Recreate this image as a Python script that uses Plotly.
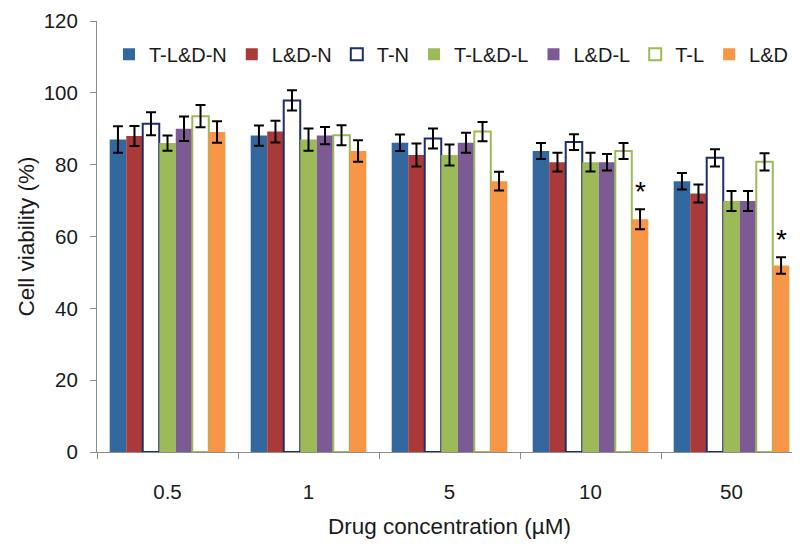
import plotly.graph_objects as go

categories = ["0.5", "1", "5", "10", "50"]
series_names = ["T-L&D-N", "L&D-N", "T-N", "T-L&D-L", "L&D-L", "T-L", "L&D"]

t_ld_n = [87.0, 88.1, 86.1, 83.8, 75.4]
ld_n = [88.0, 89.2, 82.7, 80.7, 72.0]
t_n = [91.4, 97.9, 87.3, 86.3, 81.9]
t_ld_l = [86.0, 87.0, 82.7, 80.7, 69.9]
ld_l = [90.0, 88.1, 86.1, 80.7, 69.9]
t_l = [93.5, 88.2, 89.2, 83.8, 80.8]
ld = [89.1, 83.8, 75.4, 64.8, 51.9]

t_ld_n_err = [3.7, 2.8, 2.3, 2.2, 2.3]
ld_n_err = [2.8, 3.0, 3.2, 2.6, 2.5]
t_n_err = [3.2, 2.8, 2.8, 2.2, 2.4]
t_ld_l_err = [2.1, 3.1, 2.9, 2.6, 2.8]
ld_l_err = [3.4, 2.4, 2.8, 2.3, 2.8]
t_l_err = [3.1, 2.8, 2.7, 2.2, 2.4]
ld_err = [3.0, 3.0, 2.6, 2.8, 2.3]

significant = ["10", "50"]  # L&D marked with *

values = [t_ld_n, ld_n, t_n, t_ld_l, ld_l, t_l, ld]
errors = [t_ld_n_err, ld_n_err, t_n_err, t_ld_l_err, ld_l_err, t_l_err, ld_err]
fills = ["#33689E", "#AA3A3A", "white", "#9CBA57", "#7C5B95", "white", "#F79646"]
outlines = ["#33689E", "#AA3A3A", "#1F2E66", "#9CBA57", "#7C5B95", "#9CBA57", "#F79646"]
outline_w = [0, 0, 2, 0, 0, 2, 0]

FONT = "Liberation Sans, Arial, sans-serif"

fig = go.Figure()
for name, v, e, f, o, w in zip(series_names, values, errors, fills, outlines, outline_w):
    fig.add_trace(go.Bar(
        name=name, x=categories, y=v,
        marker=dict(color=f, line=dict(color=o, width=w)),
        error_y=dict(type="data", array=e, visible=True, color="black", thickness=2, width=5),
    ))

# asterisks above L&D bars
plot_w = 800 - 89 - 6
group_w = plot_w / len(categories)
bargap = 0.18
bar_w = group_w * (1 - bargap) / len(series_names)
for c in significant:
    i = categories.index(c)
    fig.add_annotation(x=i, y=ld[i] + ld_err[i], text="*", showarrow=False,
                       xref="x", yref="y", xshift=3 * bar_w, yanchor="bottom", yshift=0,
                       font=dict(family=FONT, size=28, color="black"))

fig.update_layout(
    width=800, height=553,
    barmode="group", bargap=bargap, bargroupgap=0,
    plot_bgcolor="white", paper_bgcolor="white",
    margin=dict(l=89, r=6, t=13, b=109, autoexpand=False),
    font=dict(family=FONT, size=20.5, color="#1a1a1a"),
    legend=dict(orientation="h", x=0.017, y=0.923, xanchor="left", yanchor="middle",
                font=dict(size=20), bgcolor="rgba(0,0,0,0)", itemwidth=30, tracegroupgap=0),
    xaxis=dict(type="category", range=[-0.5, len(categories) - 0.5], automargin=False,
               showline=True, linecolor="#8c8c8c", linewidth=1, ticks="outside",
               tickson="boundaries", ticklen=6, tickcolor="#8c8c8c",
               title=dict(text="Drug concentration (µM)", font=dict(size=22.5), standoff=16),
               ticklabelstandoff=21),
    yaxis=dict(range=[0, 120], dtick=20, showline=True, linecolor="#8c8c8c", linewidth=1,
               automargin=False,
               ticks="outside", ticklen=6, tickcolor="#8c8c8c", showgrid=False, zeroline=False,
               title=dict(text="Cell viability (%)", font=dict(size=22.5), standoff=2),
               ticklabelstandoff=8),
)

fig.write_html("out.html")
